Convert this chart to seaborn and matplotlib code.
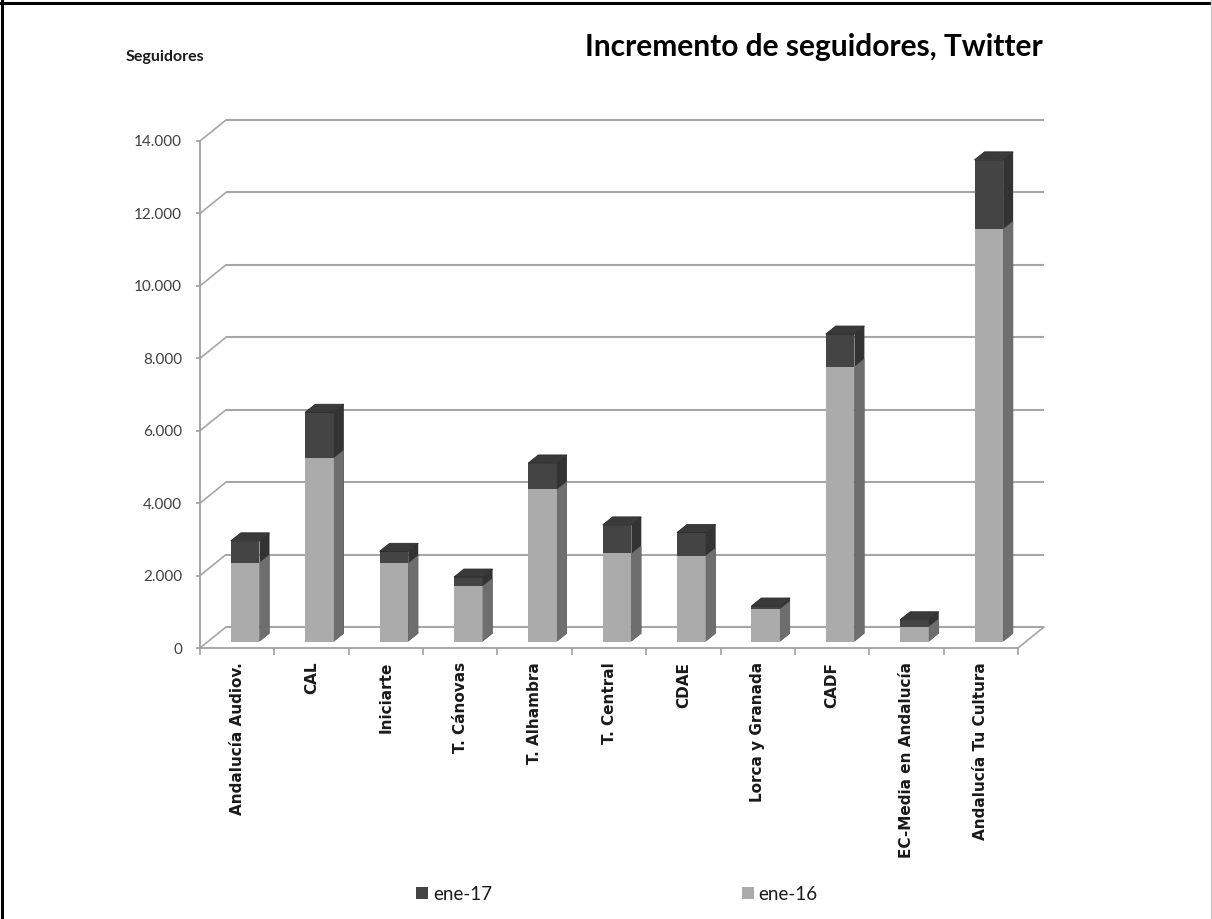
import numpy as np
import pandas as pd
import matplotlib
matplotlib.use("Agg")
import matplotlib.pyplot as plt
import seaborn as sns
from matplotlib.patches import Polygon, Patch
from matplotlib.lines import Line2D
from matplotlib.ticker import FuncFormatter, FixedLocator

# ---------------- data ----------------
categories = ["Andalucía Audiov.", "CAL", "Iniciarte", "T. Cánovas", "T. Alhambra",
              "T. Central", "CDAE", "Lorca y Granada", "CADF",
              "EC-Media en Andalucía", "Andalucía Tu Cultura"]
ene16 = [2180, 5070, 2160, 1530, 4200, 2430, 2370, 900, 7590, 410, 11390]
ene17 = [2780, 6330, 2490, 1780, 4930, 3220, 3010, 980, 8490, 600, 13300]
series = ["ene-17", "ene-16"]
yticks = [0, 2000, 4000, 6000, 8000, 10000, 12000, 14000]
title = "Incremento de seguidores, Twitter"
ylabel = "Seguidores"

front_col = {"ene-17": "#444444", "ene-16": "#ABABAB"}
side_col = {"ene-17": "#333333", "ene-16": "#6E6E6E"}
top_col = {"ene-17": "#3A3A3A", "ene-16": "#BDBDBD"}

sns.set_theme(style="white")
plt.rcParams["font.family"] = ["Lato", "DejaVu Sans"]

W, H = 1212, 919
fig = plt.figure(figsize=(W / 100, H / 100), dpi=100)
ax = fig.add_axes([200 / W, 1 - 648 / H, 818 / W, (648 - 141) / H])

df = pd.DataFrame({
    "cat": categories * 2,
    "serie": [series[0]] * len(categories) + [series[1]] * len(categories),
    "val": ene17 + ene16,
})
sns.barplot(data=df, x="cat", y="val", hue="serie", hue_order=series,
            order=categories, palette=front_col, dodge=False, width=0.385,
            saturation=1, legend=False, ax=ax, zorder=3)

ax.set_xlim(-0.5, len(categories) - 0.5)
ax.set_ylim(0, yticks[-1])

# pixel -> data unit conversion
p0 = ax.transData.transform((0, 0))
px_x = ax.transData.transform((1, 0))[0] - p0[0]
px_y = ax.transData.transform((0, 1000))[1] - p0[1]
def dx(px):
    return px / px_x
def dy(px):
    return px / px_y * 1000

# back wall offset, bar front offset, bar depth
BW = (26, 21)
BF = (8, 6.5)
BD = (10, 8)

grid_c = "#A6A6A6"
x_l, x_r = -0.5, len(categories) - 0.5
for v in yticks:
    ax.plot([x_l + dx(BW[0]), x_r + dx(BW[0])], [v + dy(BW[1])] * 2,
            color=grid_c, lw=1.5, zorder=1, clip_on=False, solid_capstyle="butt")
    ax.plot([x_l, x_l + dx(BW[0])], [v, v + dy(BW[1])],
            color=grid_c, lw=1.2, zorder=1, clip_on=False)
ax.plot([x_r, x_r + dx(BW[0])], [0, dy(BW[1])], color=grid_c, lw=1.2,
        zorder=1, clip_on=False)

# 3D faces built from the seaborn bars
for cont, s in zip(ax.containers, series):
    z = 2 if s == series[0] else 3
    for p in cont.patches:
        x0, w, h = p.get_x(), p.get_width(), p.get_height()
        fx, fy = x0 + dx(BF[0]), dy(BF[1])
        p.set_x(fx)
        p.set_y(fy)
        p.set_linewidth(0)
        p.set_zorder(z)
        p.set_clip_on(False)
        ddx, ddy = dx(BD[0]), dy(BD[1])
        side = Polygon([(fx + w, fy), (fx + w, fy + h), (fx + w + ddx, fy + h + ddy),
                        (fx + w + ddx, fy + ddy)], closed=True,
                       facecolor=side_col[s], lw=0, zorder=z, clip_on=False)
        ax.add_patch(side)
        if s == series[0]:
            top = Polygon([(fx, fy + h), (fx + w, fy + h), (fx + w + ddx, fy + h + ddy),
                           (fx + ddx, fy + h + ddy)], closed=True,
                          facecolor=top_col[s], edgecolor="#2A2A2A", lw=0.6,
                          zorder=z, clip_on=False)
            ax.add_patch(top)

# axes styling
for sp in ["top", "right"]:
    ax.spines[sp].set_visible(False)
for sp in ["left", "bottom"]:
    ax.spines[sp].set_color("#A0A0A0")
    ax.spines[sp].set_linewidth(1.3)
    ax.spines[sp].set_zorder(1.5)

ax.set_yticks(yticks)
ax.yaxis.set_major_formatter(FuncFormatter(lambda v, _: f"{v:,.0f}".replace(",", ".")))
ax.tick_params(axis="y", left=True, length=3, width=1.2, color="#A0A0A0",
               labelsize=11, labelcolor="#404040", pad=10)
ax.set_xticks(range(len(categories)))
ax.set_xticklabels(categories, rotation=90, fontweight="bold",
                   fontfamily="DejaVu Sans", fontsize=11, color="#1A1A1A")
ax.xaxis.set_minor_locator(FixedLocator(np.arange(-0.5, len(categories), 1.0)))
ax.tick_params(axis="x", which="major", bottom=True, length=0, pad=10)
ax.tick_params(axis="x", which="minor", bottom=True, length=5, width=1.2, color="#A0A0A0")
ax.set_xlabel("")
ax.set_ylabel("")
ax.grid(False)
ax.set_facecolor("none")

# texts
fig.text(126 / W, 1 - 57 / H, ylabel, fontsize=11.5, fontweight="bold",
         color="#1A1A1A", va="center", ha="left")
fig.text(1043 / W, 1 - 47 / H, title, fontsize=21.5, fontweight="bold",
         color="#000000", va="center", ha="right")

# legend
handles = [Patch(facecolor=front_col[s], edgecolor="none") for s in series]
fig.legend(handles, series, loc="center left", bbox_to_anchor=(416 / W, 1 - 894 / H),
           ncol=2, frameon=False, fontsize=13.5, handlelength=0.64, handleheight=0.64,
           handletextpad=0.27, columnspacing=13.3, borderaxespad=0, borderpad=0,
           labelcolor="#1A1A1A")

# figure frame
fig.add_artist(Line2D([0, 1], [1 - 2.5 / H] * 2, transform=fig.transFigure, color="black", lw=2.2))
fig.add_artist(Line2D([2.5 / W] * 2, [0, 1], transform=fig.transFigure, color="black", lw=2.2))
fig.add_artist(Line2D([1 - 1.5 / W] * 2, [0, 1], transform=fig.transFigure, color="#C8C8C8", lw=1))

fig.savefig("out.png", dpi=100)
